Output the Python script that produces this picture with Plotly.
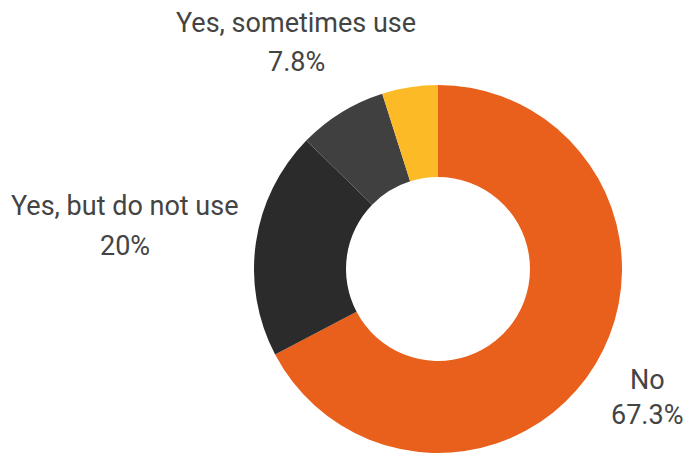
import plotly.graph_objects as go

# Survey answers (percent of respondents), clockwise from 12 o'clock
labels = ["No", "Yes, but do not use", "Yes, sometimes use", "Yes, regularly use"]
values = [67.3, 20.0, 7.8, 4.9]
colors = ["#E8601C", "#2B2B2B", "#404040", "#FDBA27"]

W, H = 685, 454

fig = go.Figure(
    go.Pie(
        labels=labels,
        values=values,
        hole=0.5,
        sort=False,
        direction="clockwise",
        rotation=0,
        textinfo="none",
        marker=dict(colors=colors, line=dict(width=0)),
        domain=dict(x=[(438 - 200) / W, (438 + 200) / W],
                    y=[(H - 453) / H, (H - 85) / H]),
        showlegend=False,
        hoverinfo="label+percent",
    )
)

# Outside labels: (x centre, name line centre, value line centre) in pixels
label_pos = {
    "No": (647, 380, 415),
    "Yes, but do not use": (125, 206, 246),
    "Yes, sometimes use": (296, 23, 62),
}

font = dict(family="Roboto, sans-serif", size=27, color="#444444")
annotations = []
for name, val in zip(labels, values):
    if name not in label_pos:
        continue
    x, y1, y2 = label_pos[name]
    for txt, yy in ((name, y1), (f"{val:g}%", y2)):
        annotations.append(dict(
            text=txt, x=x / W, y=(H - yy) / H, xref="paper", yref="paper",
            xanchor="center", yanchor="middle", showarrow=False, font=font,
        ))

fig.update_layout(
    width=W, height=H,
    margin=dict(l=0, r=0, t=0, b=0),
    paper_bgcolor="white",
    plot_bgcolor="white",
    annotations=annotations,
)

fig.write_html("out.html")
